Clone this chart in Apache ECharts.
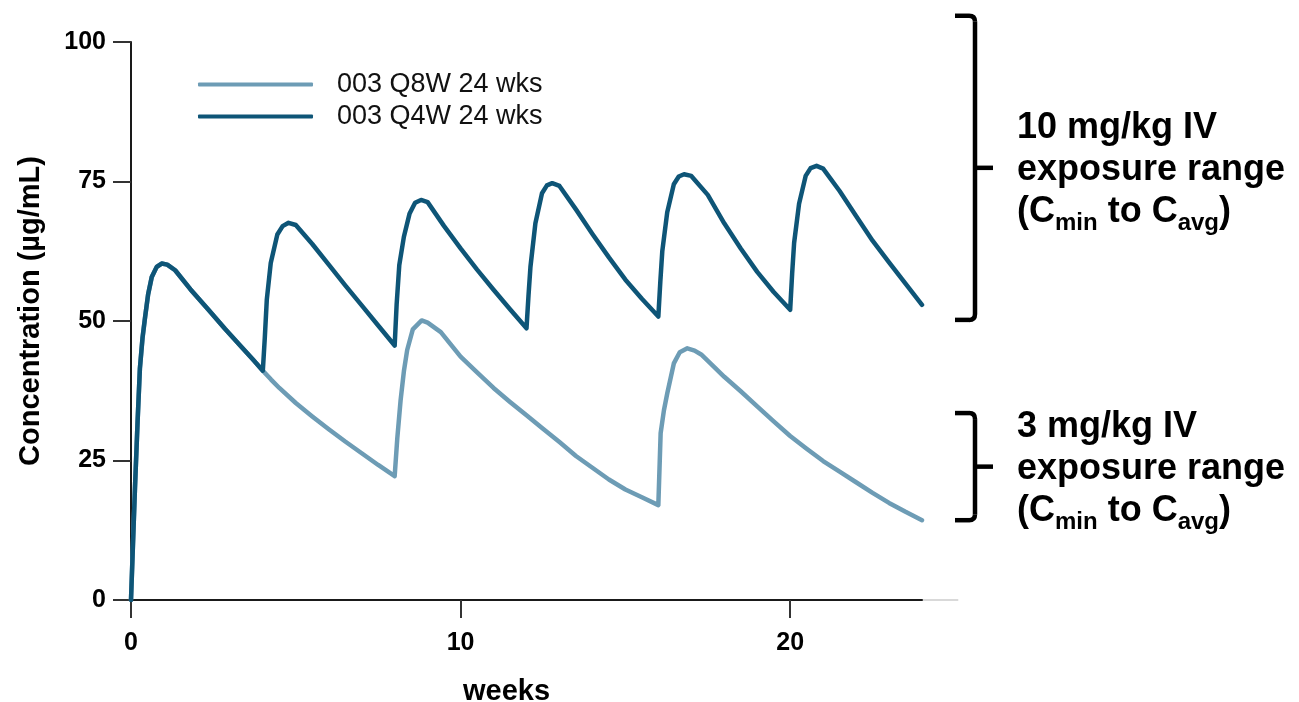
<!DOCTYPE html>
<html>
<head>
<meta charset="utf-8">
<title>Concentration vs weeks</title>
<script src="https://cdn.jsdelivr.net/npm/echarts@6/dist/echarts.min.js"></script>
<style>
  html, body { margin: 0; padding: 0; background: #fff; }
  #chart { width: 1299px; height: 702px; }
</style>
</head>
<body>
<div id="chart"></div>
<script>
// ---------------- data ----------------
const seriesNames = ['003 Q8W 24 wks', '003 Q4W 24 wks'];

// Q8W: dose at week 0, 8, 16
const q8wWeeks = [0, 0.06, 0.12, 0.2, 0.27, 0.35, 0.43, 0.52, 0.63, 0.78, 0.93, 1.1, 1.34, 1.8, 2.35, 2.85, 3.36, 3.7, 4.0,
  4.25, 4.5, 5.0, 5.5, 6.0, 6.5, 7.0, 7.5, 8.0,
  8.08, 8.18, 8.28, 8.38, 8.55, 8.82, 9.0, 9.4, 10.0, 10.5, 11.0, 11.5, 12.0, 12.5, 13.0, 13.5, 14.0, 14.5, 15.0, 15.5, 16.0,
  16.07, 16.17, 16.27, 16.47, 16.65, 16.88, 17.1, 17.3, 17.69, 18.0, 18.5, 19.0, 19.5, 20.0, 20.5, 21.0, 21.5, 22.0, 22.5, 23.0, 23.5, 24.0];
const q8wConc = [0, 10, 20, 32, 41.5, 47, 50.8, 54.8, 57.9, 59.7, 60.3, 60.1, 59.1, 55.7, 52.0, 48.6, 45.3, 43.1, 41.1,
  39.5, 38.0, 35.3, 32.9, 30.6, 28.4, 26.3, 24.2, 22.2,
  29, 35.8, 41.0, 44.8, 48.5, 50.1, 49.7, 48.0, 43.6, 40.8, 38.0, 35.5, 33.1, 30.7, 28.3, 25.8, 23.7, 21.6, 19.8, 18.4, 17.0,
  29.9, 34, 37.0, 42.4, 44.4, 45.1, 44.7, 44.0, 41.8, 40.0, 37.4, 34.7, 32.0, 29.4, 27.1, 24.9, 23.0, 21.1, 19.2, 17.4, 15.8, 14.3];

// Q4W: dose every 4 weeks
const q4wWeeks = [0, 0.06, 0.12, 0.2, 0.27, 0.35, 0.43, 0.52, 0.63, 0.78, 0.93, 1.1, 1.34, 1.8, 2.35, 2.85, 3.36, 3.7, 4.0,
  4.06, 4.12, 4.24, 4.44, 4.6, 4.78, 5.0, 5.5, 6.0, 6.5, 7.0, 7.5, 8.0,
  8.06, 8.14, 8.28, 8.45, 8.62, 8.8, 9.0, 9.5, 10.0, 10.5, 11.0, 11.5, 12.0,
  12.06, 12.12, 12.27, 12.47, 12.62, 12.78, 13.0, 13.5, 14.0, 14.5, 15.0, 15.5, 16.0,
  16.06, 16.12, 16.27, 16.47, 16.62, 16.78, 17.0, 17.5, 18.0, 18.5, 19.0, 19.5, 20.0,
  20.06, 20.12, 20.27, 20.47, 20.62, 20.8, 21.0, 21.5, 22.0, 22.5, 23.0, 23.5, 24.0];
const q4wConc = [0, 10, 20, 32, 41.5, 47, 50.8, 54.8, 57.9, 59.7, 60.3, 60.1, 59.1, 55.7, 52.0, 48.6, 45.3, 43.1, 41.1,
  47, 53.8, 60.4, 65.5, 67.0, 67.6, 67.2, 63.8, 60.1, 56.4, 52.8, 49.2, 45.6,
  53, 60, 65.1, 69.2, 71.2, 71.7, 71.3, 67.0, 63.0, 59.2, 55.6, 52.1, 48.7,
  54.5, 59.7, 67.5, 72.9, 74.3, 74.7, 74.2, 70.0, 65.6, 61.4, 57.4, 54.0, 50.8,
  57, 62.5, 69.5, 74.5, 75.9, 76.3, 76.0, 72.6, 67.5, 63.0, 58.8, 55.2, 52.0,
  58.5, 64, 71.0, 76.0, 77.4, 77.8, 77.3, 73.3, 68.8, 64.4, 60.5, 56.7, 52.9];

// axis ticks
const xTicks = [0, 10, 20];
const yTicks = [0, 25, 50, 75, 100];

// exposure ranges shown by the brackets on the right (Cmin to Cavg)
const rangeLabels = ['10 mg/kg IV', '3 mg/kg IV'];
const rangeLow = [50.2, 14.3];
const rangeHigh = [104.7, 33.5];

const colors = ['#6d9cb5', '#0e5577'];
const FONT = "'Liberation Sans', Arial, Helvetica, sans-serif";

function pairs(xs, ys) {
  return xs.map((x, i) => [x, ys[i]]);
}

// ---------------- chart ----------------
const chart = echarts.init(document.getElementById('chart'), null, { renderer: 'canvas' });

const option = {
  backgroundColor: '#ffffff',
  animation: false,
  grid: { left: 131, right: 377, top: 42, bottom: 102, containLabel: false, outerBoundsMode: 'none' },
  legend: {
    orient: 'vertical',
    left: 193,
    top: 66,
    itemWidth: 115,
    itemHeight: 4,
    itemGap: 5,
    textStyle: { fontFamily: FONT, fontSize: 27, color: '#111', padding: [0, 0, 0, 19] },
    data: seriesNames.map(n => ({ name: n, icon: 'roundRect' }))
  },
  xAxis: {
    type: 'value',
    min: 0,
    max: 24,
    interval: 10,
    name: 'weeks',
    nameLocation: 'middle',
    nameGap: 77,
    nameTextStyle: { fontFamily: FONT, fontSize: 29, fontWeight: 'bold', color: '#000', padding: [0, 40, 0, 0] },
    axisLine: { show: true, onZero: false, lineStyle: { color: '#1a1a1a', width: 2 } },
    axisTick: { show: true, length: 18, lineStyle: { color: '#333', width: 2 }, customValues: xTicks },
    axisLabel: { margin: 31, fontFamily: FONT, fontSize: 25, fontWeight: 'bold', color: '#000', customValues: xTicks },
    splitLine: { show: false }
  },
  yAxis: {
    type: 'value',
    min: 0,
    max: 100,
    interval: 25,
    name: 'Concentration (µg/mL)',
    nameLocation: 'middle',
    nameGap: 86,
    nameTextStyle: { fontFamily: FONT, fontSize: 29, fontWeight: 'bold', color: '#000', padding: [0, 0, 0, 20] },
    axisLine: { show: true, lineStyle: { color: '#1a1a1a', width: 2 } },
    axisTick: { show: true, length: 18, lineStyle: { color: '#333', width: 2 }, customValues: yTicks },
    axisLabel: { margin: 25, fontFamily: FONT, fontSize: 25, fontWeight: 'bold', color: '#000', customValues: yTicks },
    splitLine: { show: false }
  },
  series: [
    {
      name: seriesNames[0],
      type: 'line',
      data: pairs(q8wWeeks, q8wConc),
      symbol: 'none',
      smooth: false,
      lineStyle: { color: colors[0], width: 4.5, cap: 'round', join: 'round' },
      itemStyle: { color: colors[0] },
      z: 2
    },
    {
      name: seriesNames[1],
      type: 'line',
      data: pairs(q4wWeeks, q4wConc),
      symbol: 'none',
      smooth: false,
      lineStyle: { color: colors[1], width: 4.5, cap: 'round', join: 'round' },
      itemStyle: { color: colors[1] },
      z: 3
    }
  ]
};

chart.setOption(option);

// ---------------- brackets + range labels (placed with the chart's own scale) ----------------
function seg(x1, y1, x2, y2, style) {
  return { type: 'line', shape: { x1, y1, x2, y2 }, style, silent: true };
}

function corner(x1, y1, cx, cy, x2, y2, style) {
  return { type: 'bezierCurve', shape: { x1, y1, x2, y2, cpx1: cx, cpy1: cy }, style, silent: true };
}

function buildAnnotations() {
  const els = [];
  const xEnd = chart.convertToPixel({ gridIndex: 0 }, [24, 0]);
  const xFar = chart.convertToPixel({ gridIndex: 0 }, [25.1, 0]);
  // light continuation of the x axis
  els.push(seg(xEnd[0], xEnd[1], xFar[0], xFar[1], { stroke: '#cccccc', lineWidth: 1.5 }));

  const xV = 975, xL = 955, xR = 993, r = 6;
  const st = { stroke: '#000', lineWidth: 4.5, fill: null };
  rangeLabels.forEach((label, i) => {
    const yTop = chart.convertToPixel({ yAxisIndex: 0 }, rangeHigh[i]);
    const yBot = chart.convertToPixel({ yAxisIndex: 0 }, rangeLow[i]);
    const yMid = (yTop + yBot) / 2;
    els.push(seg(xL, yTop, xV - r, yTop, st));
    els.push(corner(xV - r, yTop, xV, yTop, xV, yTop + r, st));
    els.push(seg(xV, yTop + r, xV, yBot - r, st));
    els.push(corner(xV, yBot - r, xV, yBot, xV - r, yBot, st));
    els.push(seg(xV - r, yBot, xL, yBot, st));
    els.push(seg(xV, yMid, xR, yMid, st));
    els.push({
      type: 'text',
      x: 1017,
      y: yMid - 61,
      style: {
        text: '{b|' + label + '}\n{b|exposure range}\n{b|(C}{s|min}{b| to C}{s|avg}{b|)}',
        verticalAlign: 'top',
        align: 'left',
        rich: {
          b: { fontFamily: FONT, fontSize: 36, fontWeight: 'bold', fill: '#000', lineHeight: 42 },
          s: { fontFamily: FONT, fontSize: 24, fontWeight: 'bold', fill: '#000', lineHeight: 18, padding: [24, 0, 0, 0] }
        }
      },
      silent: true
    });
  });
  chart.setOption({ graphic: els });
}

buildAnnotations();
</script>
</body>
</html>
